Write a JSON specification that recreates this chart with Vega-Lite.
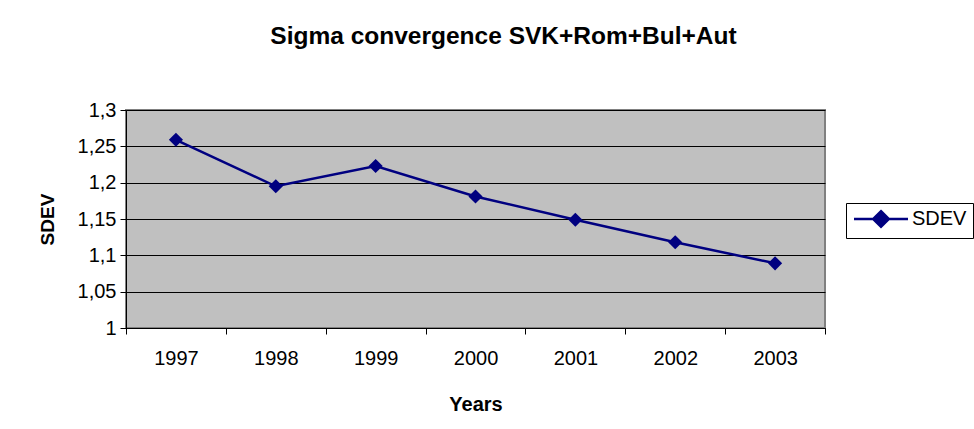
{
  "$schema": "https://vega.github.io/schema/vega-lite/v6.json",
  "width": 699,
  "height": 218,
  "autosize": {"type": "none"},
  "padding": {"left": 126, "top": 110, "right": 149, "bottom": 101},
  "background": "white",
  "config": {
    "font": "Liberation Sans",
    "view": {"fill": "#C0C0C0", "stroke": "#808080", "strokeWidth": 2}
  },
  "title": {
    "text": "Sigma convergence SVK+Rom+Bul+Aut",
    "font": "Liberation Sans",
    "fontSize": 24.5,
    "fontWeight": "bold",
    "color": "black",
    "anchor": "middle",
    "dx": 28,
    "offset": 51
  },
  "data": {
    "values": [
      {"year": 1997, "sdev": 1.259, "series": "SDEV"},
      {"year": 1998, "sdev": 1.195, "series": "SDEV"},
      {"year": 1999, "sdev": 1.223, "series": "SDEV"},
      {"year": 2000, "sdev": 1.181, "series": "SDEV"},
      {"year": 2001, "sdev": 1.149, "series": "SDEV"},
      {"year": 2002, "sdev": 1.118, "series": "SDEV"},
      {"year": 2003, "sdev": 1.089, "series": "SDEV"}
    ]
  },
  "encoding": {
    "x": {
      "field": "year",
      "type": "quantitative",
      "scale": {"domain": [1996.5, 2003.5], "nice": false, "zero": false},
      "axis": {
        "values": [1996.5, 1997.5, 1998.5, 1999.5, 2000.5, 2001.5, 2002.5, 2003.5],
        "labelExpr": "datum.value < 2003 ? format(datum.value + 0.5, 'd') : ''",
        "labelOffset": 50,
        "labelFlush": false,
        "labelOverlap": false,
        "grid": false,
        "domain": true,
        "domainColor": "black",
        "tickColor": "black",
        "tickSize": 6,
        "labelFontSize": 20,
        "labelColor": "black",
        "labelPadding": 14,
        "title": "Years",
        "titleFontSize": 20,
        "titleFontWeight": "bold",
        "titleColor": "black",
        "titlePadding": 26
      }
    },
    "y": {
      "field": "sdev",
      "type": "quantitative",
      "scale": {"domain": [1, 1.3], "nice": false, "zero": false},
      "axis": {
        "values": [1, 1.05, 1.1, 1.15, 1.2, 1.25, 1.3],
        "labelExpr": "replace(format(datum.value, ''), '.', ',')",
        "grid": true,
        "gridColor": "black",
        "gridOpacity": 1,
        "gridWidth": 1,
        "domainColor": "black",
        "tickColor": "black",
        "tickSize": 6,
        "labelFontSize": 20,
        "labelColor": "black",
        "labelPadding": 4,
        "title": "SDEV",
        "titleFontSize": 19,
        "titleFontWeight": "bold",
        "titleColor": "black",
        "titlePadding": 20
      }
    },
    "color": {
      "field": "series",
      "type": "nominal",
      "scale": {"range": ["#000080"]},
      "legend": {
        "title": null,
        "orient": "none",
        "legendX": 720,
        "legendY": 93,
        "strokeColor": "black",
        "padding": 6,
        "symbolType": "M-1,0L5.75,0M2.375,-0.98L3.355,0L2.375,0.98L1.395,0Z",
        "symbolSize": 256,
        "symbolStrokeWidth": 2.5,
        "symbolFillColor": "#000080",
        "symbolStrokeColor": "#000080",
        "symbolOpacity": 1,
        "labelFontSize": 20,
        "labelColor": "black",
        "labelOffset": 40
      }
    }
  },
  "layer": [
    {
      "mark": {"type": "line", "strokeWidth": 2.5}
    },
    {
      "mark": {"type": "point", "shape": "diamond", "filled": true, "size": 200, "opacity": 1}
    }
  ]
}
